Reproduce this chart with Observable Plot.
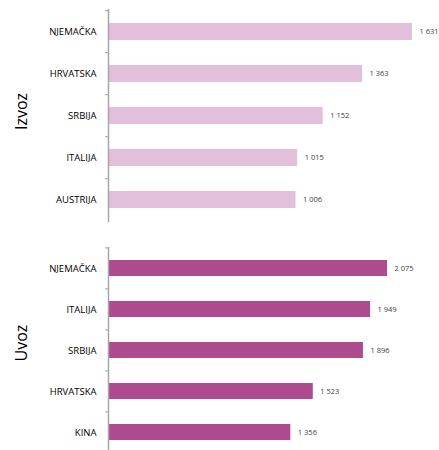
<!DOCTYPE html>
<html><head><meta charset="utf-8">
<script src="https://cdn.jsdelivr.net/npm/d3@7"></script>
<script src="https://cdn.jsdelivr.net/npm/@observablehq/plot@0.6"></script>
<style>body{margin:0;background:#fff} #chart svg{display:block}</style>
</head><body><div id="chart"></div>
<script>
const izvozCountries = ["NJEMAČKA","HRVATSKA","SRBIJA","ITALIJA","AUSTRIJA"];
const izvozValues = [1631,1363,1152,1015,1006];
const uvozCountries = ["NJEMAČKA","ITALIJA","SRBIJA","HRVATSKA","KINA"];
const uvozValues = [2075,1949,1896,1523,1356];
const panelTitles = ["Izvoz","Uvoz"];
const colors = ["#e2bfdb","#ae4a8e"];
const fmt = d3.formatLocale({thousands:" ", grouping:[3], decimal:",", currency:["",""]}).format(",d");

function panel(names, values, title, color, o) {
  const data = names.map((n,i)=>({name:n, value:values[i]}));
  const inner = o.height - o.marginTop - o.marginBottom;
  const step = inner / names.length;
  return Plot.plot({
    width: 439, height: o.height,
    marginTop: o.marginTop, marginBottom: o.marginBottom,
    marginLeft: 108, marginRight: o.marginRight,
    style: {fontFamily: "'Open Sans', sans-serif", background: "#fff", overflow: "visible"},
    x: {domain: [0, d3.max(values)], axis: null},
    y: {type: "band", domain: names, paddingInner: 0.6, paddingOuter: 0.3, axis: null},
    marks: [
      Plot.barX(data, {x: "value", y: "name", fill: color}),
      Plot.text(data, {x: "value", y: "name", text: d => fmt(d.value), dx: 7, textAnchor: "start", fontSize: 7.5, fill: "#404040"}),
      Plot.axisY({tickSize: 0, tickPadding: 12, fontSize: 9.5, fill: "#000", label: null}),
      Plot.axisY({tickSize: 3, tickFormat: () => "", dy: -step / 2, stroke: "#a6a6a6", label: null}),
      Plot.ruleX([0], {stroke: "#a6a6a6", strokeWidth: 1.5}),
      Plot.text([title], {text: d => d, frameAnchor: "left", dx: -87, dy: o.titleDy, rotate: -90, fontSize: 16, fill: "#000"})
    ]
  });
}

const el = document.getElementById("chart");
el.append(panel(izvozCountries, izvozValues, panelTitles[0], colors[0], {height: 225, marginTop: 9, marginBottom: 3, marginRight: 27, titleDy: 14}));
el.append(panel(uvozCountries, uvozValues, panelTitles[1], colors[1], {height: 228, marginTop: 22, marginBottom: 0, marginRight: 52, titleDy: 11}));
</script>
</body></html>
